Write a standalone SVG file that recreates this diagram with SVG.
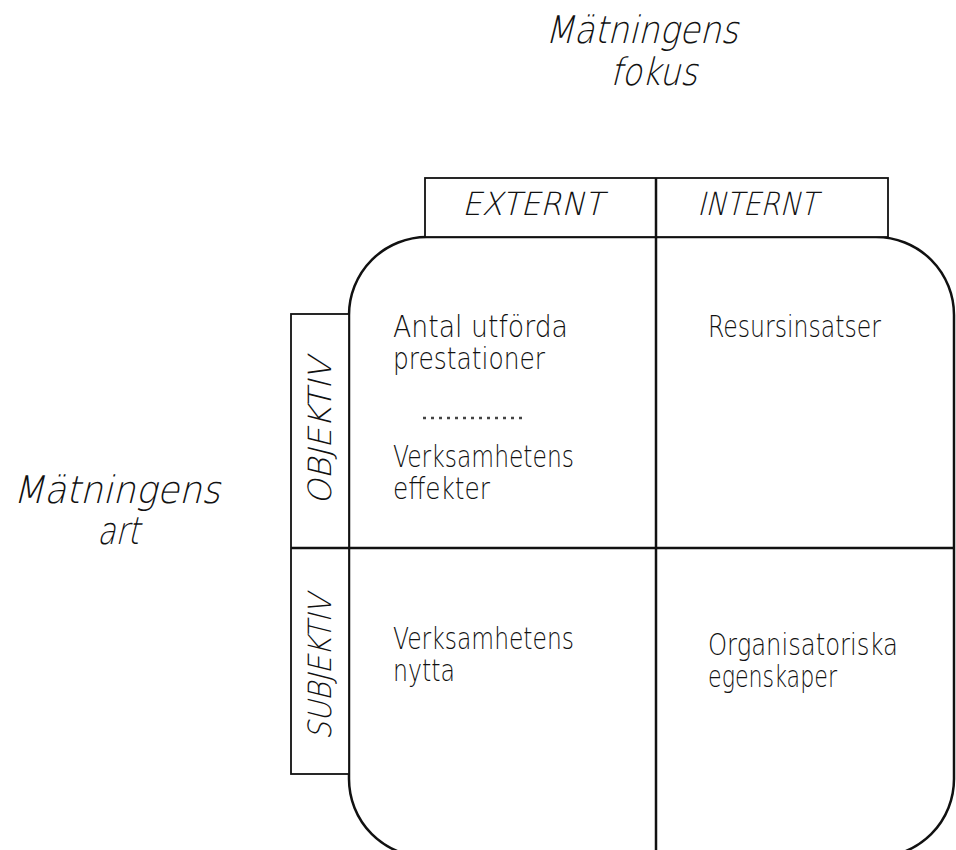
<svg xmlns="http://www.w3.org/2000/svg" width="956" height="850" viewBox="0 0 956 850">
<style>
.ln{fill:none;stroke:#111;stroke-width:2.5}
.bx{fill:#fff;stroke:#111;stroke-width:1.8}
.t{font-family:"DejaVu Sans","Liberation Sans",Arial,sans-serif;font-weight:200;fill:#111}
.body{font-size:30px}
.title{font-size:38px}
.hdr{font-size:32px}
</style>
<rect width="956" height="850" fill="#fff"/>
<g id="title-fokus">
<text class="t title" transform="translate(545,43) skewX(-14)" textLength="193" lengthAdjust="spacingAndGlyphs">Mätningens</text>
<text class="t title" transform="translate(610,85) skewX(-14)" textLength="87" lengthAdjust="spacingAndGlyphs">fokus</text>
</g>
<g id="title-art">
<text class="t title" transform="translate(13,503) skewX(-14)" textLength="207" lengthAdjust="spacingAndGlyphs">Mätningens</text>
<text class="t title" transform="translate(97,544) skewX(-14)" textLength="42" lengthAdjust="spacingAndGlyphs">art</text>
</g>
<g id="matrix">
<rect class="ln" x="349" y="237" width="605" height="620" rx="78" ry="78"/>
</g>
<g id="header">
<rect class="bx" x="425" y="178" width="463" height="59"/>
<text class="t hdr" transform="translate(462,215) skewX(-14)" textLength="141" lengthAdjust="spacingAndGlyphs">EXTERNT</text>
<text class="t hdr" transform="translate(697,215) skewX(-14)" textLength="120" lengthAdjust="spacingAndGlyphs">INTERNT</text>
</g>
<g id="side">
<rect class="bx" x="291" y="314" width="58" height="460"/>
<text class="t hdr" transform="translate(331,505) rotate(-90) skewX(-14)" textLength="147" lengthAdjust="spacingAndGlyphs">OBJEKTIV</text>
<text class="t hdr" transform="translate(331,740) rotate(-90) skewX(-14)" textLength="145" lengthAdjust="spacingAndGlyphs">SUBJEKTIV</text>
</g>
<g id="connectors">
<line class="ln" x1="656" y1="178" x2="656" y2="850"/>
<line class="ln" x1="291" y1="548" x2="954" y2="548"/>
<line x1="423" y1="418" x2="524" y2="418" stroke="#444" stroke-width="2.5" stroke-dasharray="3 5"/>
</g>
<g id="q-ext-obj">
<text class="t body" x="393" y="337" textLength="175" lengthAdjust="spacingAndGlyphs">Antal utförda</text>
<text class="t body" x="393" y="369" textLength="152" lengthAdjust="spacingAndGlyphs">prestationer</text>
<text class="t body" x="393" y="467" textLength="181" lengthAdjust="spacingAndGlyphs">Verksamhetens</text>
<text class="t body" x="393" y="499" textLength="97" lengthAdjust="spacingAndGlyphs">effekter</text>
</g>
<g id="q-int-obj">
<text class="t body" x="708" y="337" textLength="173" lengthAdjust="spacingAndGlyphs">Resursinsatser</text>
</g>
<g id="q-ext-subj">
<text class="t body" x="393" y="649" textLength="181" lengthAdjust="spacingAndGlyphs">Verksamhetens</text>
<text class="t body" x="393" y="681" textLength="62" lengthAdjust="spacingAndGlyphs">nytta</text>
</g>
<g id="q-int-subj">
<text class="t body" x="708" y="655" textLength="190" lengthAdjust="spacingAndGlyphs">Organisatoriska</text>
<text class="t body" x="708" y="687" textLength="129" lengthAdjust="spacingAndGlyphs">egenskaper</text>
</g>
</svg>
